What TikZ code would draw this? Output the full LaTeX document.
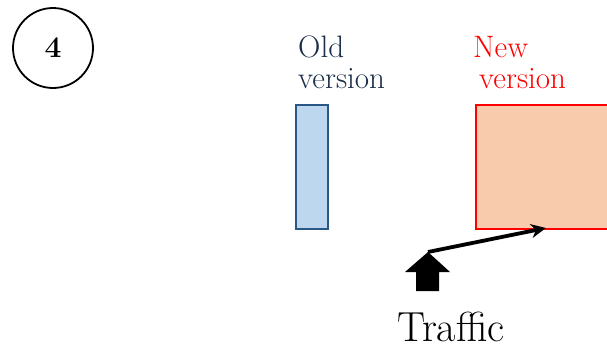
\documentclass[tikz,border=0pt]{standalone}
\usepackage{fontspec}
\usetikzlibrary{arrows.meta}
\definecolor{oldfill}{HTML}{BDD7EE}
\definecolor{olddraw}{HTML}{2A5783}
\definecolor{oldtext}{HTML}{1A2E48}
\definecolor{newfill}{HTML}{F8CBAD}
\definecolor{newdraw}{HTML}{FF0000}
\tikzset{
  lbl/.style={anchor=base west, inner sep=0pt, font=\fontsize{31}{36}\selectfont},
  verbox/.style={draw, line width=2.6pt, inner sep=0pt, anchor=north west},
}
\begin{document}
\begin{tikzpicture}[x=1pt,y=-1pt]
\useasboundingbox (0,0) rectangle (607,349);
% step circle
\node[draw, circle, line width=1.8pt, minimum size=80pt, inner sep=0pt,
      font=\fontsize{30}{34}\selectfont\bfseries] (num) at (53,48) {4};
% old version
\node[verbox, draw=olddraw, fill=oldfill, minimum width=32pt, minimum height=124pt] (old) at (294.5,103.5) {};
\node[lbl, text=oldtext] (oldA) at (298,57) {Old};
\node[lbl, text=oldtext] (oldB) at (298,88) {version};
% new version
\node[verbox, draw=newdraw, fill=newfill, minimum width=150pt, minimum height=124pt] (new) at (474.5,103.5) {};
\node[lbl, text=newdraw] (newA) at (473,57) {New};
\node[lbl, text=newdraw] (newB) at (479,88) {version};
% block arrow
\fill (416,291) -- (416,272) -- (405,272) -- (428,252) -- (450,272) -- (439,272) -- (439,291) -- cycle;
\coordinate (tip) at (428,252);
\coordinate (tgt) at (546,228);
\draw[line width=3.8pt, -{Stealth[length=15pt,width=14pt]}] (tip) -- (tgt);
% traffic label
\node[anchor=base, inner sep=0pt, font=\fontsize{42}{48}\selectfont] (traffic) at (451,341) {Traffic};
\end{tikzpicture}
\end{document}
